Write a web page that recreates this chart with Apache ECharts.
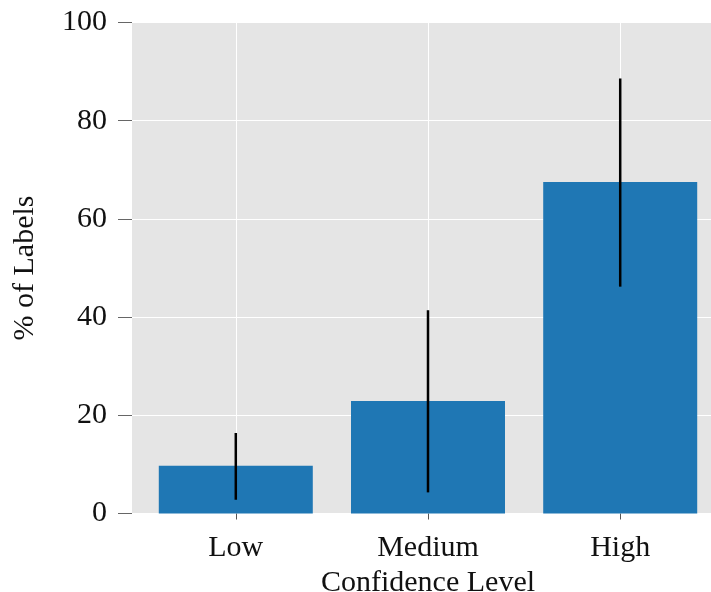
<!DOCTYPE html>
<html>
<head>
<meta charset="utf-8">
<script src="https://cdn.jsdelivr.net/npm/echarts@6/dist/echarts.min.js"></script>
<style>html,body{margin:0;padding:0;background:#fff}#c{width:711px;height:592px}</style>
</head>
<body>
<div id="c"></div>
<script>
const categories = ['Low', 'Medium', 'High'];
const values = [9.7, 22.9, 67.5];
const errLow = [2.8, 4.3, 46.2];
const errHigh = [16.4, 41.4, 88.6];
const yTicks = [0, 20, 40, 60, 80, 100];

const FONT = 'Liberation Serif';
const FS = 30;
const chart = echarts.init(document.getElementById('c'), null, {renderer: 'canvas'});
const idx = categories.map((c, i) => i);

chart.setOption({
  animation: false,
  grid: {left: 132, right: -13, top: 22.5, bottom: 78.5, show: true, backgroundColor: '#e5e5e5', borderWidth: 0, outerBoundsMode: 'none', containLabel: false},
  xAxis: {
    type: 'value', min: -0.54, max: 2.54,
    name: 'Confidence Level', nameLocation: 'middle', nameGap: 51,
    nameTextStyle: {fontFamily: FONT, fontSize: FS, color: '#111'},
    axisLine: {show: false, onZero: false},
    axisTick: {show: true, customValues: idx, length: 6, lineStyle: {color: '#555', width: 1}},
    axisLabel: {customValues: idx, formatter: v => categories[Math.round(v)] || '', fontFamily: FONT, fontSize: FS, color: '#111', margin: 20},
    splitLine: {show: true, lineStyle: {color: '#fff', width: 1}}
  },
  yAxis: {
    type: 'value', min: 0, max: 100, interval: 20,
    name: '% of Labels', nameLocation: 'middle', nameGap: 92,
    nameTextStyle: {fontFamily: FONT, fontSize: FS, color: '#111'},
    axisLine: {show: false, onZero: false},
    axisTick: {show: true, inside: false, length: 14, lineStyle: {color: '#666', width: 1}},
    axisLabel: {fontFamily: FONT, fontSize: FS, color: '#111', margin: 25, formatter: v => yTicks.includes(v) ? String(v) : ''},
    splitLine: {show: true, lineStyle: {color: '#fff', width: 1}}
  },
  series: [
    {
      type: 'bar', barWidth: 154,
      itemStyle: {color: '#1f77b4'},
      data: values.map((v, i) => [i, v]),
      z: 2
    },
    {
      type: 'custom', z: 3,
      data: values.map((v, i) => [i, errLow[i], errHigh[i]]),
      renderItem: function (params, api) {
        const p1 = api.coord([api.value(0), api.value(1)]);
        const p2 = api.coord([api.value(0), api.value(2)]);
        return {type: 'line', shape: {x1: p1[0], y1: p1[1], x2: p2[0], y2: p2[1]}, style: {stroke: '#000', lineWidth: 2.5}};
      }
    }
  ]
});
</script>
</body>
</html>
